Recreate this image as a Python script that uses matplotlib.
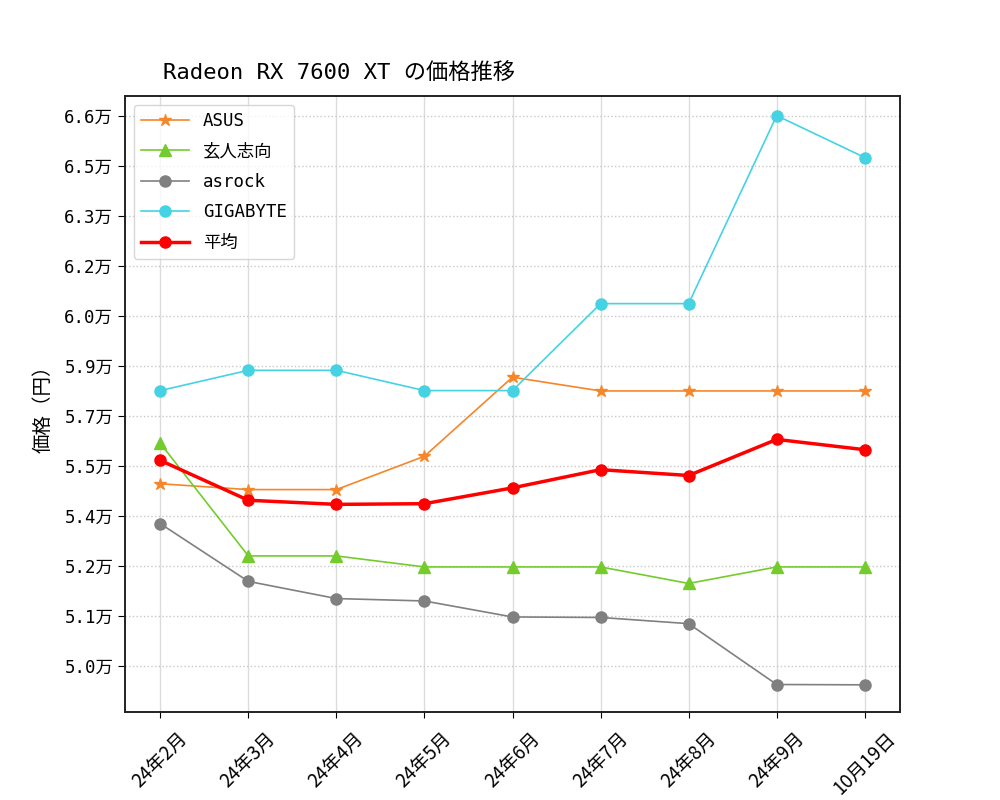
import matplotlib
matplotlib.use("Agg")
from matplotlib import pyplot as plt

# data (yen)
months = ["24年2月", "24年3月", "24年4月", "24年5月", "24年6月", "24年7月", "24年8月", "24年9月", "10月19日"]
asus = [55300, 55130, 55130, 56100, 58400, 58000, 58000, 58000, 58000]
kuroutoshikou = [56480, 53200, 53200, 52880, 52880, 52880, 52400, 52880, 52880]
asrock = [54140, 52460, 51960, 51890, 51425, 51410, 51230, 49460, 49450]
gigabyte = [58010, 58600, 58600, 58010, 58010, 60540, 60540, 66010, 64790]
average = [55980, 54820, 54700, 54720, 55180, 55710, 55540, 56590, 56290]

ytick_vals = [50000 + k * 16000 / 11 for k in range(12)]
ytick_labels = ["5.0万", "5.1万", "5.2万", "5.4万", "5.5万", "5.7万", "5.9万",
                "6.0万", "6.2万", "6.3万", "6.5万", "6.6万"]

mono = ["DejaVu Sans Mono", "Noto Sans CJK JP"]
plt.rcParams["font.family"] = mono

fig, ax = plt.subplots(figsize=(10, 8), dpi=100)

x = range(len(months))
ax.plot(x, asus, color="#f5862a", marker="*", markersize=9, lw=1.2, label="ASUS")
ax.plot(x, kuroutoshikou, color="#74cc2c", marker="^", markersize=8, lw=1.2, label="玄人志向")
ax.plot(x, asrock, color="gray", marker="o", markersize=8, lw=1.2, label="asrock")
ax.plot(x, gigabyte, color="#45d3e3", marker="o", markersize=8, lw=1.2, label="GIGABYTE")
ax.plot(x, average, color="red", marker="o", markersize=8, lw=2.5, label="平均")

ax.set_xticks(list(x))
ax.set_xticklabels(months, rotation=45, fontsize=13.5, family=["Noto Sans CJK JP"])
ax.set_yticks(ytick_vals)
ax.set_yticklabels(ytick_labels, fontsize=12.5)
ax.set_ylim(48660, 66580)
ax.tick_params(axis="y", length=5)
ax.tick_params(axis="x", length=4.5, pad=7)

ax.grid(axis="x", color="#dcdcdc", lw=1)
ax.grid(axis="y", color="#c8c8c8", ls=":", lw=1)
for s in ax.spines.values():
    s.set_linewidth(1.4)
    s.set_color("#222222")

ax.set_ylabel("価格（円）", fontsize=14, family=["Noto Sans CJK JP"], labelpad=8)
ax.set_title("Radeon RX 7600 XT の価格推移", fontsize=16, loc="left", x=0.049, pad=12)
ax.legend(loc="upper left", fontsize=12.5, labelspacing=0.72, handlelength=2.8)

fig.savefig("out.png", dpi=100)
